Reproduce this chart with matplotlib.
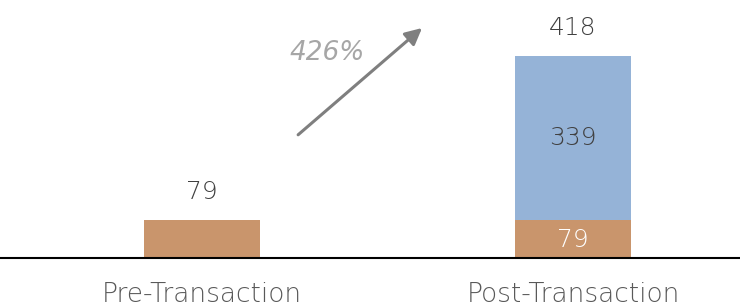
import matplotlib.pyplot as plt

categories = ['Pre-Transaction', 'Post-Transaction']
existing = [79, 79]
added = [0, 339]
growth_label = '426%'

tan = '#C9956C'
blue = '#95B3D7'

plt.rcParams['font.family'] = ['DejaVu Sans']

fig = plt.figure(figsize=(7.4, 3.07), dpi=100)
ax = fig.add_axes([0, 49 / 307, 1, 258 / 307])

x = range(len(categories))
ax.bar(x, existing, width=0.313, color=tan)
ax.bar(x, added, bottom=existing, width=0.313, color=blue)

ax.set_xlim(-0.5445, 1.450)
ax.set_ylim(0, 534)

fw = 200
fs = 18

# totals above bars
for i in x:
    total = existing[i] + added[i]
    ax.text(i, total + 58, str(total), ha='center', va='center',
            fontsize=fs, fontweight=fw, color='#404040')

# segment labels inside the stacked bar
ax.text(1, existing[1] / 2 - 2, str(existing[1]), ha='center', va='center',
        fontsize=fs, fontweight=fw, color='white')
ax.text(1, existing[1] + added[1] / 2, str(added[1]), ha='center', va='center',
        fontsize=fs, fontweight=fw, color='#404040')

# growth arrow
ax.annotate('', xy=(0.593, 476), xytext=(0.259, 255),
            arrowprops=dict(arrowstyle='-|>,head_length=1.0,head_width=0.5',
                            color='#7F7F7F', lw=2.2, shrinkA=0, shrinkB=0))
ax.text(0.338, 425, growth_label, ha='center', va='center', fontsize=fs + 1,
        fontstyle='italic', fontweight=fw, color='#A6A6A6')

for s in ['top', 'right', 'left']:
    ax.spines[s].set_visible(False)
ax.spines['bottom'].set_color('black')
ax.spines['bottom'].set_linewidth(1.5)
ax.set_yticks([])
ax.set_xticks(list(x))
ax.set_xticklabels(categories, fontsize=19, fontweight=fw, color='#595959')
ax.tick_params(axis='x', length=0, pad=17)

fig.savefig('out.png', dpi=100)
